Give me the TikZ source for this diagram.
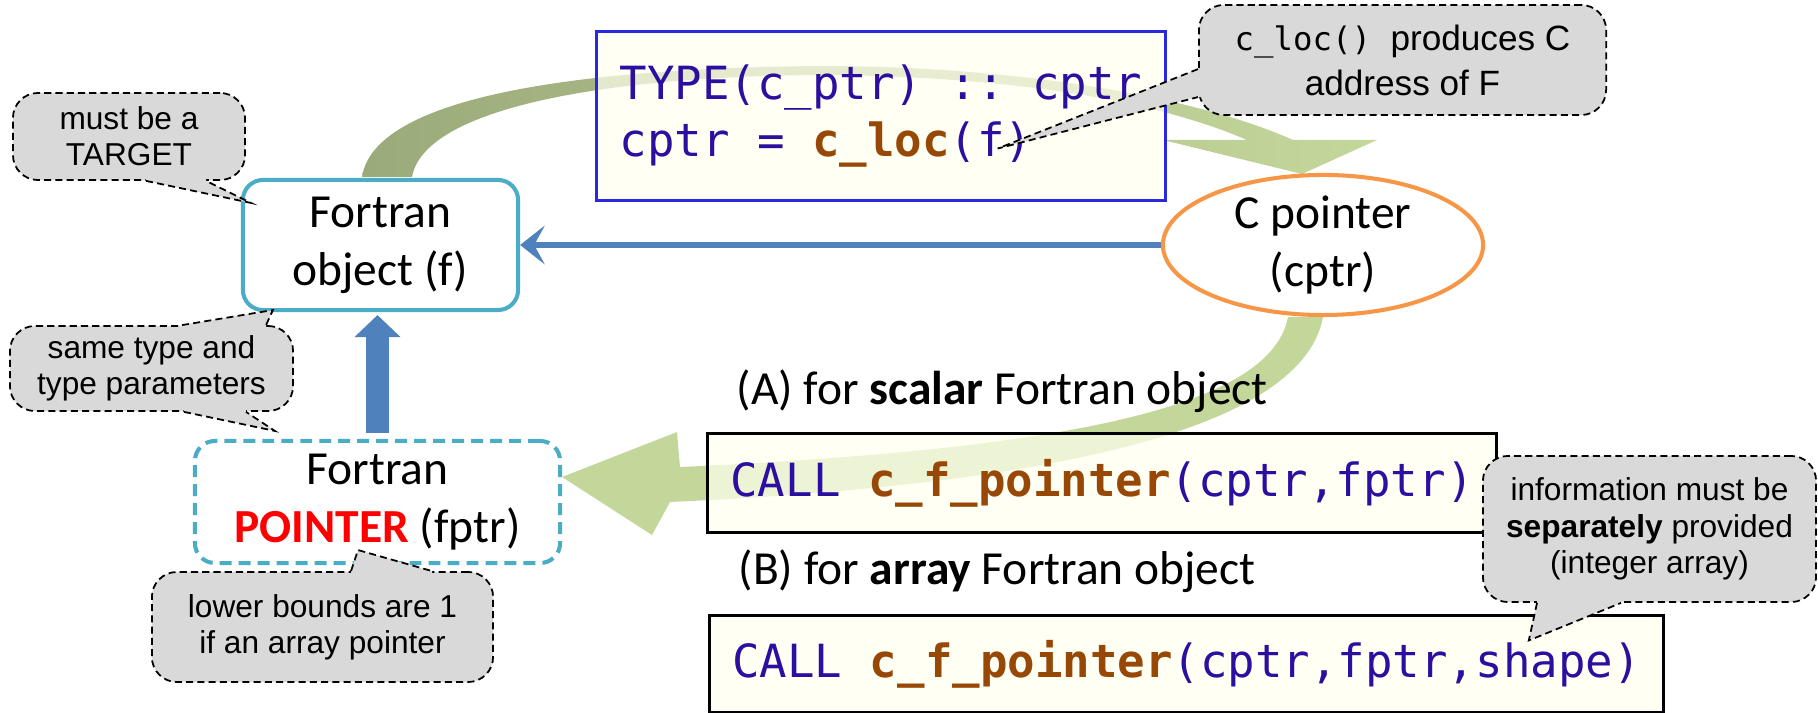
\documentclass[tikz,border=0pt]{standalone}
\usepackage{fontspec}
\setmainfont{Carlito}
\setmonofont{DejaVu Sans Mono}
\newfontfamily\notefont{Liberation Sans}
\usetikzlibrary{arrows.meta,positioning,calc,shapes.geometric}

\definecolor{codeblue}{RGB}{44,14,160}
\definecolor{codebrown}{RGB}{152,72,6}
\definecolor{codeframe}{RGB}{40,40,225}
\definecolor{ivory}{RGB}{255,255,238}
\definecolor{boxteal}{RGB}{75,172,198}
\definecolor{ptrorange}{RGB}{247,150,70}
\definecolor{arrowblue}{RGB}{79,129,189}
\definecolor{pointred}{RGB}{255,0,0}
\definecolor{olive}{RGB}{155,170,122}
\definecolor{lightgreen}{RGB}{196,215,155}
\definecolor{notegray}{RGB}{217,217,217}

% tail of a callout: base point, tip, base point, inward shift
\newcommand{\notetail}[4]{%
  \fill[notegray] ($#1+#4$) -- #1 -- #2 -- #3 -- ($#3+#4$) -- cycle;
  \draw[notetailline] #1 -- #2 -- #3;}

\begin{document}
\begin{tikzpicture}[x=0.01cm,y=-0.01cm,
    font=\fontsize{13.5}{16.5}\selectfont,
    fortranbox/.style = {rectangle,rounded corners=2mm,draw=boxteal,line width=1.15pt,fill=white,
                         minimum width=2.75cm,minimum height=1.3cm,inner sep=0,align=center},
    pointerbox/.style = {fortranbox,dash pattern=on 3.4pt off 2pt,minimum width=3.65cm,minimum height=1.22cm},
    cellipse/.style = {ellipse,draw=ptrorange,line width=1.15pt,fill=white,
                       minimum width=3.2cm,minimum height=1.4cm,inner sep=0,align=center},
    codebox/.style = {rectangle,fill=ivory,fill opacity=0.7,text opacity=1,line width=0.85pt,
                      inner sep=0,align=left,font=\ttfamily\fontsize{13}{16.2}\selectfont},
    note/.style = {rectangle,rounded corners=2.5mm,fill=notegray,draw=black,line width=0.5pt,
                   dash pattern=on 2pt off 1.2pt,inner sep=0,align=center,
                   font={\fontsize{9}{10.3}\notefont}},
    notetailline/.style = {draw=black,line width=0.5pt,dash pattern=on 2pt off 1.2pt},
    thinarrow/.style = {draw=arrowblue,line width=1.7pt,-{Stealth[length=7pt,width=11pt,inset=3pt]}},
    blockarrow/.style = {draw=arrowblue,line width=6.5pt,-{Triangle[length=6.3pt,width=12.8pt]}}
  ]
  \useasboundingbox (0,0) rectangle (1818,713);

  % green curved arrows (drawn first, boxes lie over them)
  \shade[left color=olive,right color=lightgreen]
    (362,177) .. controls (375,92) and (600,68) .. (820,66)
    .. controls (1020,66) and (1200,98) .. (1293,140)
    -- (1377,140) -- (1302,174) -- (1163,140) -- (1247,140)
    .. controls (1150,98) and (1000,76) .. (820,75)
    .. controls (620,76) and (425,105) .. (412,177) -- cycle;
  \fill[lightgreen]
    (1288,317) .. controls (1272,400) and (1100,448) .. (680,467)
    -- (677,432) -- (562,477) -- (652,535) -- (670,502)
    .. controls (1110,482) and (1305,415) .. (1323,317) -- cycle;

  % main nodes
  \node (fobj)[fortranbox] at (380.5,245) {Fortran\\object (f)};
  \node (cptr)[cellipse] at (1323,245) {C pointer\\(cptr)};
  \node (fptr)[pointerbox] at (377.5,502) {Fortran\\{\bfseries\color{pointred}POINTER} (fptr)};
  \node (code)[codebox,draw=codeframe,minimum width=5.68cm,minimum height=1.68cm] at (881,116)
    {\color{codeblue}TYPE(c\_ptr) :: cptr\\
     \color{codeblue}cptr = {\bfseries\color{codebrown}c\_loc}(f)};
  \node (scalar)[anchor=base west,inner sep=0] at (736,405) {(A) for \textbf{scalar} Fortran object};
  \node (callA)[codebox,draw=black,minimum width=7.88cm,minimum height=0.98cm] at (1102,483)
    {\color{codeblue}CALL {\bfseries\color{codebrown}c\_f\_pointer}(cptr,fptr)};
  \node (array)[anchor=base west,inner sep=0] at (738,585) {(B) for \textbf{array} Fortran object};
  \node (callB)[codebox,draw=black,minimum width=9.53cm,minimum height=0.96cm] at (1186.5,664)
    {\color{codeblue}CALL {\bfseries\color{codebrown}c\_f\_pointer}(cptr,fptr,shape)};

  % blue arrows
  \draw[thinarrow] (cptr.west) -- (cptr.west -| fobj.east);
  \draw[blockarrow,shorten <=0.6mm,shorten >=0.3mm] (fptr.north) -- (fptr.north |- fobj.south);

  % callouts
  \node (target)[note,minimum width=2.32cm,minimum height=0.87cm] at (129,136.5) {must be a\\TARGET};
  \notetail{($(target.south west)+(134,0)$)}{($(fobj.north west)+(10,25)$)}{($(target.south west)+(194,0)$)}{(0,-3)}

  \node (sametype)[note,minimum width=2.83cm,minimum height=0.85cm] at (151.5,368.5) {same type and\\type parameters};
  \notetail{($(sametype.north west)+(173,0)$)}{($(fobj.south west)+(32,-2)$)}{($(sametype.north west)+(257,0)$)}{(0,3)}
  \notetail{($(sametype.south west)+(175,0)$)}{($(fptr.north west)+(82,-8)$)}{($(sametype.south west)+(237,0)$)}{(0,-3)}

  \node (bounds)[note,minimum width=3.41cm,minimum height=1.1cm] at (322.5,627) {lower bounds are 1\\if an array pointer};
  \notetail{($(bounds.north west)+(200,0)$)}{($(fptr.south)+(-19.5,-15)$)}{($(bounds.north west)+(281,0)$)}{(0,3)}

  \node (cloc)[note,minimum width=4.07cm,minimum height=1.1cm,font={\fontsize{10}{12.8}\notefont}] at (1402.5,60)
    {{\ttfamily\fontsize{9.2}{12.8}\selectfont c\_loc()}\ \ produces C\\address of F};
  \notetail{($(cloc.north west)+(0,65)$)}{($(code.south east)+(-169,-53)$)}{($(cloc.north west)+(0,93)$)}{(3,0)}

  \node (info)[note,minimum width=3.33cm,minimum height=1.46cm] at (1649.5,529)
    {information must be\\\textbf{separately} provided\\(integer array)};
  \notetail{($(info.south west)+(55,0)$)}{($(callB.north east)+(-136,26)$)}{($(info.south west)+(139,0)$)}{(0,-3)}
\end{tikzpicture}
\end{document}
